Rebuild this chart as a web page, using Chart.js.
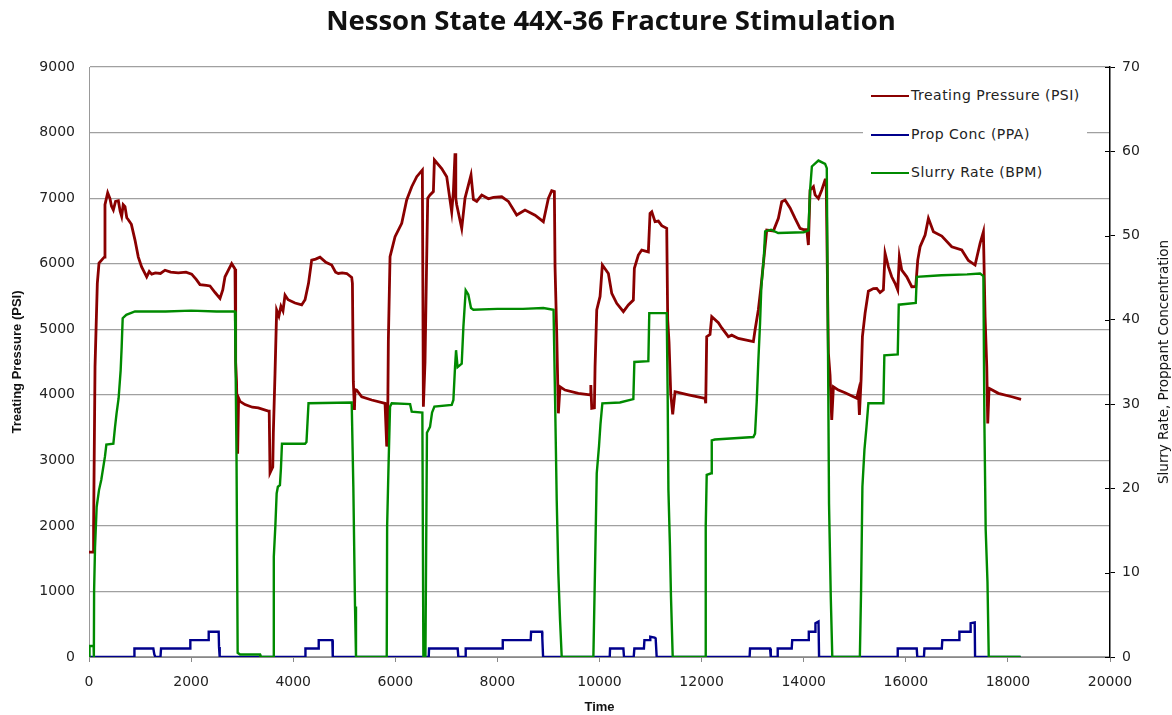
<!DOCTYPE html>
<html>
<head>
<meta charset="utf-8">
<script src="https://cdn.jsdelivr.net/npm/chart.js@4.4.1/dist/chart.umd.min.js"></script>
<style>
html, body { margin: 0; padding: 0; background: #fff; }
#wrap { position: relative; width: 1172px; height: 715px; overflow: hidden; }
#title { position: absolute; left: 50px; width: 1122px; top: 1px; text-align: center;
  font: 700 27.5px "Open Sans", sans-serif; color: #111; }
#legend { position: absolute; left: 863px; top: 72px; width: 224px; height: 118px; background: #fff; }
.item { position: absolute; left: 8px; height: 17px; font: 14px "DejaVu Sans", sans-serif; letter-spacing: 0.5px; color: #222; white-space: nowrap; }
.item span.ln { display: inline-block; width: 38px; height: 2px; vertical-align: middle; margin-right: 2px; }
#ytitle2 { position: absolute; left: 1163px; top: 362px; transform: translate(-50%, -50%) rotate(-90deg);
  font: 13.5px "DejaVu Sans", sans-serif; color: #111; white-space: nowrap; }
</style>
</head>
<body>
<div id="wrap">
  <canvas id="chart" width="1172" height="715"></canvas>
  <div id="title">Nesson State 44X-36 Fracture Stimulation</div>
  <div id="legend"></div>
  <div id="ytitle2">Slurry Rate, Proppant Concentration</div>
</div>
<script>
// treating pressure (PSI) vs time
var pressureTime = [0, 85, 90, 118, 163, 196, 281, 300, 313, 366, 411, 440, 477, 520, 575, 610, 640, 670, 705, 740, 770, 830,
  901, 966, 1031, 1130, 1180, 1228, 1300, 1400, 1489, 1600, 1750, 1900, 2011, 2100, 2174, 2300, 2370, 2470, 2566, 2620,
  2664, 2730, 2795, 2860, 2873, 2890, 2912, 2930, 2958, 3056, 3200, 3317, 3513, 3530, 3546, 3600, 3611, 3644, 3676, 3720,
  3760, 3800, 3840, 3900, 4036, 4166, 4232, 4300, 4362, 4440, 4525, 4640, 4754, 4830, 4884, 4960, 5050, 5146, 5160, 5178,
  5200, 5211, 5244, 5342, 5538, 5799, 5815, 5832, 5850, 5864, 5897, 5995, 6126, 6223, 6322, 6420, 6530, 6550, 6582, 6610,
  6635, 6680, 6746, 6766, 6909, 7007, 7072, 7105, 7138, 7170, 7185, 7203, 7301, 7366, 7483, 7530, 7595, 7693, 7824, 7922,
  8085, 8215, 8378, 8541, 8737, 8900, 8998, 9064, 9116, 9129, 9162, 9194, 9227, 9325, 9586, 9815, 9830, 9848, 9900, 9913,
  9946, 10011, 10056, 10174, 10240, 10337, 10468, 10565, 10663, 10683, 10761, 10827, 10957, 10990, 11024, 11088, 11153,
  11219, 11317, 11336, 11362, 11395, 11434, 11480, 11741, 12067, 12081, 12100, 12165, 12199, 12328, 12395, 12524, 12590,
  12720, 13014, 13047, 13111, 13164, 13230, 13276, 13407, 13504, 13570, 13635, 13733, 13831, 13929, 13994, 14060, 14092,
  14125, 14190, 14223, 14288, 14354, 14419, 14440, 14484, 14516, 14549, 14582, 14680, 14810, 15039, 15071, 15091, 15124,
  15150, 15202, 15267, 15365, 15430, 15496, 15561, 15594, 15659, 15724, 15790, 15842, 15874, 15921, 16019, 16117, 16195,
  16234, 16280, 16378, 16443, 16541, 16705, 16900, 17096, 17226, 17357, 17455, 17520, 17553, 17586, 17605, 17631, 17813,
  18076, 18258];
var pressure = [1600, 1600, 1970, 4430, 5700, 6010, 6085, 6100, 6900, 7080, 6990, 6880, 6820, 6950, 6960, 6800, 6720, 6900,
  6870, 6700, 6670, 6600, 6360, 6100, 5950, 5800, 5880, 5840, 5860, 5850, 5900, 5870, 5860, 5870, 5840, 5760, 5680, 5670,
  5660, 5560, 5470, 5600, 5800, 5900, 6000, 5920, 4500, 4200, 3100, 3950, 3900, 3850, 3810, 3800, 3750, 3750, 2810, 2900,
  3420, 4330, 5290, 5200, 5350, 5280, 5520, 5450, 5400, 5370, 5450, 5700, 6055, 6070, 6100, 6020, 5980, 5870, 5850, 5860,
  5850, 5790, 5700, 4200, 3770, 4080, 4070, 3970, 3920, 3870, 3870, 3210, 3500, 4835, 6106, 6411, 6615, 6971, 7174, 7327,
  7428, 3818, 4500, 5853, 7000, 7047, 7100, 7581, 7450, 7327, 6971, 6792, 7100, 7683, 7000, 6900, 6539, 7000, 7352, 6980,
  6950, 7047, 6990, 7010, 7021, 6950, 6742, 6818, 6740, 6640, 6996, 7113, 7100, 5953, 4937, 3717, 4123, 4072, 4022, 4000,
  4150, 3793, 3800, 4428, 5293, 5500, 5979, 5850, 5547, 5395, 5268, 5370, 5445, 5929, 6131, 6208, 6180, 6768, 6792, 6640,
  6650, 6580, 6539, 5140, 4800, 4022, 3700, 4047, 4000, 3946, 3870, 4886, 4920, 5191, 5100, 5020, 4886, 4910, 4860, 4810,
  4988, 5293, 5648, 6157, 6513, 6500, 6691, 6945, 6970, 6850, 6690, 6539, 6520, 6520, 6284, 7123, 7174, 7050, 6996, 7123,
  7276, 7276, 4632, 4300, 3615, 4123, 4072, 4030, 3946, 4050, 3692, 4225, 4886, 5242, 5580, 5620, 5623, 5560, 5600, 6157,
  5950, 5800, 5700, 5598, 6106, 5900, 5800, 5648, 5650, 6055, 6258, 6437, 6691, 6487, 6420, 6258, 6208, 6050, 5979, 6310,
  6487, 5191, 4428, 3564, 4098, 4022, 3970, 3931];

// prop conc (PPA) vs time
var propTime = [0, 888, 890, 1260, 1280, 1300, 1400, 1411, 1979, 1985, 2338, 2345, 2540, 2547, 2560, 4232, 4240, 4493, 4500,
  4767, 4775, 6655, 6661, 7222, 7235, 7370, 7379, 8098, 8105, 8652, 8660, 8875, 8880, 8895, 10200, 10207, 10468, 10480,
  10670, 10683, 10870, 10880, 10990, 10995, 11080, 11100, 11120, 12940, 12949, 13341, 13355, 13480, 13491, 13765, 13775,
  14092, 14100, 14223, 14230, 14290, 14301, 15830, 15842, 16214, 16225, 16355, 16365, 16705, 16715, 17044, 17050, 17265,
  17270, 17350, 17357, 18250];
var propConc = [0, 0, 1, 1, 0.3, 0, 0, 1, 1, 2, 2, 3, 3, 1.2, 0, 0, 1, 1, 2, 2, 0, 0, 1, 1, 0, 0, 1, 1, 2, 2, 3, 3, 2.2, 0,
  0, 1, 1, 0, 0, 1, 1, 2, 2, 2.4, 2.3, 2.2, 0, 0, 1, 1, 0, 0, 1, 1, 2, 2, 3, 3, 4, 4.2, 0, 0, 1, 1, 0, 0, 1, 1, 2, 2, 3, 3,
  4, 4.1, 0, 0];

// slurry rate (BPM) vs time
var rateTime = [0, 10, 90, 95, 100, 118, 150, 196, 240, 313, 340, 477, 510, 540, 580, 620, 640, 660, 730, 900, 1500, 2000,
  2500, 2860, 2873, 2890, 2912, 2960, 3350, 3360, 3611, 3620, 3650, 3676, 3700, 3740, 3760, 3780, 4232, 4260, 4300, 5146,
  5178, 5211, 5230, 5832, 5840, 5864, 5897, 5930, 6290, 6322, 6530, 6550, 6590, 6620, 6680, 6720, 6766, 7105, 7138, 7170,
  7190, 7220, 7301, 7334, 7379, 7430, 7483, 7530, 8000, 8500, 8900, 9100, 9129, 9162, 9194, 9227, 9260, 9880, 9913, 9946,
  9990, 10020, 10056, 10400, 10663, 10683, 10957, 10975, 11317, 11336, 11350, 11380, 11400, 11434, 12067, 12081, 12100,
  12190, 12199, 12260, 13014, 13047, 13080, 13111, 13145, 13170, 13220, 13245, 13360, 13500, 14000, 14092, 14125, 14160,
  14288, 14419, 14452, 14470, 14496, 14530, 14560, 15100, 15124, 15150, 15190, 15230, 15267, 15561, 15580, 15842, 15862,
  16195, 16215, 16700, 17200, 17455, 17520, 17540, 17565, 17600, 17625, 18250];
var slurryRate = [0, 1.3, 1.3, 0, 7.9, 13, 17.8, 19.8, 21, 23.8, 25.2, 25.3, 27.3, 28.9, 30.7, 34, 36.8, 40.2, 40.6, 41, 41,
  41.1, 41, 41, 33.7, 23.4, 0.5, 0.3, 0.3, 0, 0, 11.9, 15.5, 19.4, 20.2, 20.4, 22.4, 25.3, 25.3, 25.5, 30.1, 30.2, 20.2, 6,
  0, 0, 15.5, 21.8, 29.7, 30.1, 30, 29.1, 29, 0, 0, 26.6, 27.3, 29, 29.7, 29.9, 30.5, 34.4, 36.4, 34.4, 34.8, 39.2, 43.5,
  43, 41.4, 41.2, 41.3, 41.3, 41.4, 41.2, 30.9, 18.6, 9.9, 4.4, 0, 0, 10.7, 21.8, 25, 27.7, 30.1, 30.2, 30.6, 35, 35.1,
  40.8, 40.8, 30.5, 19.8, 13.1, 7.2, 0, 0, 15.5, 21.6, 21.8, 25.7, 25.8, 26.1, 26.5, 30.3, 35.1, 39.6, 43.9, 47.5, 50.5,
  50.7, 50.3, 50.4, 50.6, 55.4, 58.2, 58.9, 58.5, 58, 42, 18.2, 7.2, 0, 0, 7.9, 20.2, 24.6, 27.3, 30.1, 30.1, 35.8, 35.9,
  41.8, 42, 45.1, 45.3, 45.4, 45.5, 45.2, 27.7, 15.1, 8.9, 0, 0];

var seriesNames = ['Treating Pressure (PSI)', 'Prop Conc (PPA)', 'Slurry Rate (BPM)'];
var seriesColors = ['#8a0000', '#00008c', '#008a00'];

function pts(xs, ys) {
    return xs.map(function(t, i) { return { x: t, y: ys[i] }; });
}

// right axis tick marks also poke into the plot like in Excel
var innerTicks = {
    id: 'innerTicks',
    afterDraw: function(chart) {
        var s = chart.scales.y1;
        var ctx = chart.ctx;
        ctx.save();
        ctx.strokeStyle = '#000';
        ctx.lineWidth = 1;
        s.ticks.forEach(function(tk) {
            var y = Math.round(s.getPixelForValue(tk.value)) + 0.5;
            ctx.beginPath();
            ctx.moveTo(s.left - 5, y);
            ctx.lineTo(s.left, y);
            ctx.stroke();
        });
        ctx.restore();
    }
};

document.addEventListener("DOMContentLoaded", function() {
    var ctx = document.getElementById('chart').getContext('2d');
    var tickFont = { family: 'DejaVu Sans', size: 14 };
    var plain = function(v) { return String(v); };

    new Chart(ctx, {
        type: 'line',
        data: {
            datasets: [{
                label: seriesNames[0],
                data: pts(pressureTime, pressure),
                borderColor: seriesColors[0],
                borderWidth: 2.8,
                yAxisID: 'y',
                order: 3
            }, {
                label: seriesNames[1],
                data: pts(propTime, propConc),
                borderColor: seriesColors[1],
                borderWidth: 2.4,
                yAxisID: 'y1',
                order: 2
            }, {
                label: seriesNames[2],
                data: pts(rateTime, slurryRate),
                borderColor: seriesColors[2],
                borderWidth: 2.4,
                yAxisID: 'y1',
                order: 1
            }]
        },
        options: {
            responsive: false,
            animation: false,
            elements: { point: { radius: 0 }, line: { tension: 0, fill: false } },
            layout: { padding: { top: 67, left: 0, right: 0, bottom: 0 } },
            plugins: { legend: { display: false }, title: { display: false }, tooltip: { enabled: false } },
            scales: {
                x: {
                    type: 'linear',
                    min: 0, max: 20000,
                    ticks: { stepSize: 2000, font: tickFont, color: '#222', padding: 12, maxRotation: 0, callback: plain },
                    grid: { drawOnChartArea: false, drawTicks: true, tickLength: 5, color: '#888' },
                    border: { color: '#888', width: 1 },
                    title: { display: true, text: 'Time', font: { family: 'Liberation Sans', size: 13, weight: 'bold' }, color: '#111', padding: { top: 2, bottom: 0 } },
                    afterFit: function(s) { s.height = 58; }
                },
                y: {
                    position: 'left',
                    min: 0, max: 9000,
                    ticks: { stepSize: 1000, font: tickFont, color: '#222', padding: 14, callback: plain },
                    grid: { color: '#a0a0a0', lineWidth: 1.2, drawTicks: false },
                    border: { color: '#999', width: 1 },
                    title: { display: true, text: 'Treating Pressure (PSI)', font: { family: 'Liberation Sans', size: 13, weight: 'bold' }, color: '#111', padding: { top: 10, bottom: 0 } },
                    afterFit: function(s) { s.width = 89; }
                },
                y1: {
                    position: 'right',
                    min: 0, max: 70,
                    ticks: { stepSize: 10, font: tickFont, color: '#222', padding: 7, callback: plain },
                    grid: { drawOnChartArea: false, drawTicks: true, tickLength: 5, color: '#000' },
                    border: { color: '#000', width: 1.5 },
                    afterFit: function(s) { s.width = 62; }
                }
            }
        },
        plugins: [innerTicks]
    });

    // legend sits inside the plot with a white box, Excel style
    var lg = document.getElementById('legend');
    seriesNames.forEach(function(name, i) {
        var d = document.createElement('div');
        d.className = 'item';
        d.style.top = (15 + i * 38.5) + 'px';
        d.innerHTML = '<span class="ln" style="background:' + seriesColors[i] + '"></span>' + name;
        lg.appendChild(d);
    });
});
</script>
</body>
</html>
